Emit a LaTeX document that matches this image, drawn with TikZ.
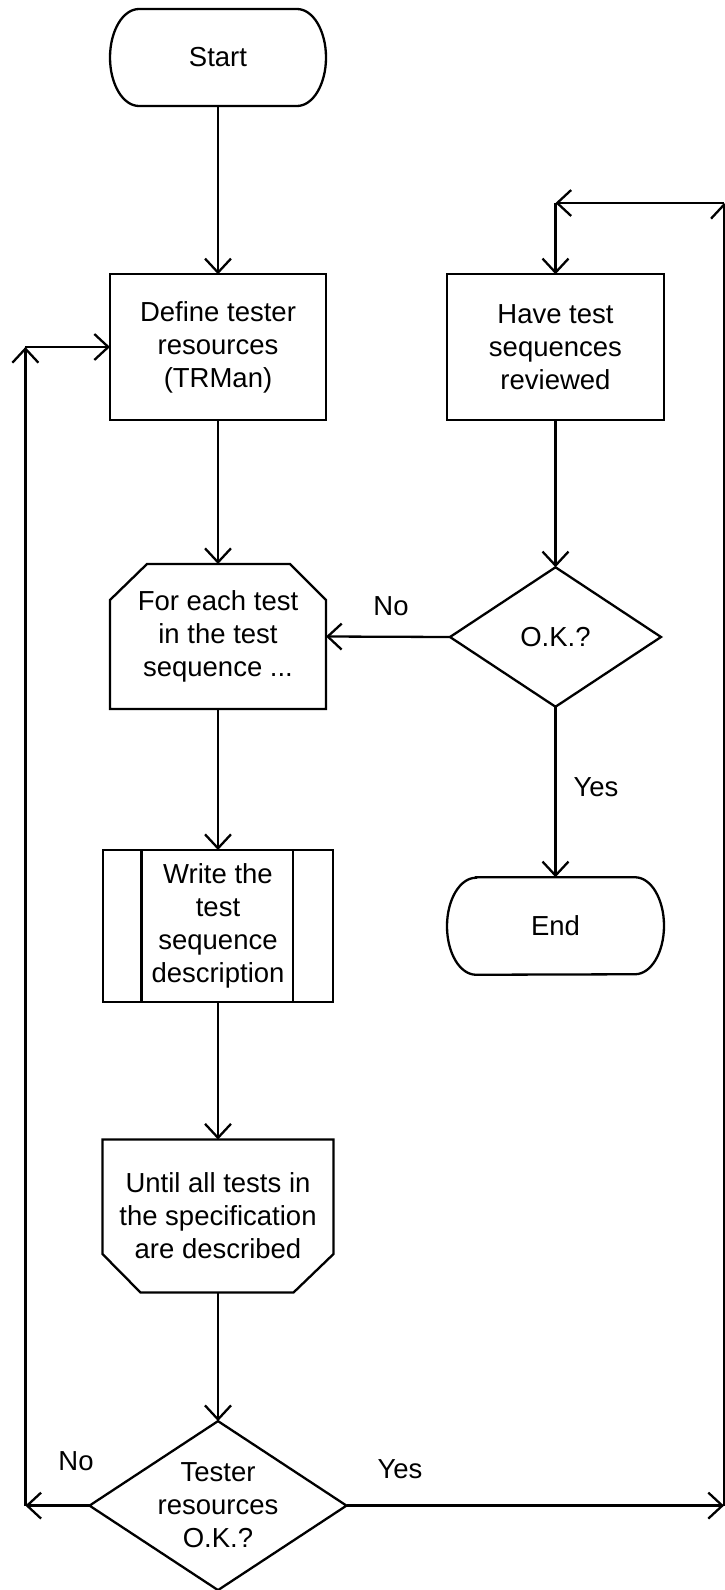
\documentclass[tikz,border=0pt]{standalone}
\usepackage{fontspec}
\setmainfont{Liberation Sans}
\usetikzlibrary{arrows.meta,calc}
\begin{document}
\begin{tikzpicture}[x=1pt,y=1pt,
  line width=2.3pt,
  txt/.style={font=\fontsize{27.5}{33}\selectfont, align=center, inner sep=0pt, outer sep=0pt},
  plainbox/.style={txt, draw, rectangle},
  shapebox/.style={txt, rectangle},
  flow/.style={-{Straight Barb[length=14pt,width=26pt]}},
  lbl/.style={font=\fontsize{27.5}{33}\selectfont, inner sep=0pt}
]
\useasboundingbox (0,0) rectangle (725,-1590);

% ---- nodes ----
\node[shapebox, minimum width=216pt, minimum height=97pt] (start) at (218,-57.5) {Start};
\node[plainbox, minimum width=216pt, minimum height=145.5pt] (define) at (218,-347)
  {Define tester\\resources\\(TRMan)};
\node[plainbox, minimum width=217pt, minimum height=145.5pt] (review) at (555.5,-347)
  {Have test\\sequences\\reviewed};
\node[shapebox, minimum width=216pt, minimum height=145pt] (foreach) at (218,-636.5)
  {For each test\\in the test\\sequence ...};
\node[shapebox, minimum width=211pt, minimum height=139.5pt] (ok) at (555.5,-637) {O.K.?};
\node[shapebox, minimum width=217pt, minimum height=97.5pt] (end) at (555.5,-926) {End};
\node[plainbox, minimum width=230pt, minimum height=152pt] (write) at (218,-926)
  {Write the\\test\\sequence\\description};
\node[shapebox, minimum width=231pt, minimum height=153pt] (until) at (218,-1216)
  {Until all tests in\\the specification\\are described};
\node[shapebox, minimum width=257pt, minimum height=169pt] (tester) at (218,-1505.6)
  {Tester\\resources\\O.K.?};

% ---- outlines ----
% terminals: flat top and bottom with elliptical ends
\foreach \t in {start,end}{
  \draw ($(\t.north west)+(29,0)$) -- ($(\t.north east)+(-29,0)$)
    arc[start angle=90,end angle=-90,x radius=29,y radius=48.5]
    -- ($(\t.south west)+(29,0)$)
    arc[start angle=270,end angle=90,x radius=29,y radius=48.5] -- cycle;
}
% loop start: chamfered top corners
\draw (foreach.south west) -- ($(foreach.north west)+(0,-36)$)
  -- ($(foreach.north west)+(37,0)$) -- ($(foreach.north east)+(-36,0)$)
  -- ($(foreach.north east)+(0,-36)$) -- (foreach.south east) -- cycle;
% predefined process: inner side bars
\draw ($(write.north west)+(38.5,0)$) -- ($(write.south west)+(38.5,0)$);
\draw ($(write.north east)+(-40,0)$) -- ($(write.south east)+(-40,0)$);
% loop end: chamfered bottom corners
\draw (until.north west) -- (until.north east) -- ($(until.south east)+(0,38.5)$)
  -- ($(until.south east)+(-40,0)$) -- ($(until.south west)+(38,0)$)
  -- ($(until.south west)+(0,38.5)$) -- cycle;
% decisions
\foreach \d in {ok,tester}{
  \draw (\d.north) -- (\d.east) -- (\d.south) -- (\d.west) -- cycle;
}

% ---- loop corners ----
\coordinate (lb) at (25.4,-1505.6);
\coordinate (lt) at (25.4,-347);
\coordinate (rb) at (724,-1505.6);
\coordinate (rt) at (724,-203);
\coordinate (rr) at (555.5,-203);

% ---- connectors ----
\draw[flow] (start.south) -- (define.north);
\draw[flow] (define.south) -- (foreach.north);
\draw[flow] (foreach.south) -- (write.north);
\draw[flow] (write.south) -- (until.north);
\draw[flow] (until.south) -- (tester.north);
\draw[flow] (review.south) -- (ok.north);
\draw[flow] (ok.south) -- (end.north);
\draw[flow] (ok.west) -- (foreach.east);

\draw[flow] (tester.west) -- (lb);
\draw[flow] (lb) -- (lt);
\draw[flow] (lt) -- (define.west);

\draw[flow] (tester.east) -- (rb);
\draw[flow] (rb) -- (rt);
\draw[flow] (rt) -- (rr);
\draw[flow] (rr) -- (review.north);

% ---- labels ----
\node[lbl] (no1) at (391,-606) {No};
\node[lbl] (yes1) at (596,-787) {Yes};
\node[lbl] (no2) at (76,-1461) {No};
\node[lbl] (yes2) at (400,-1469) {Yes};
\end{tikzpicture}
\end{document}
